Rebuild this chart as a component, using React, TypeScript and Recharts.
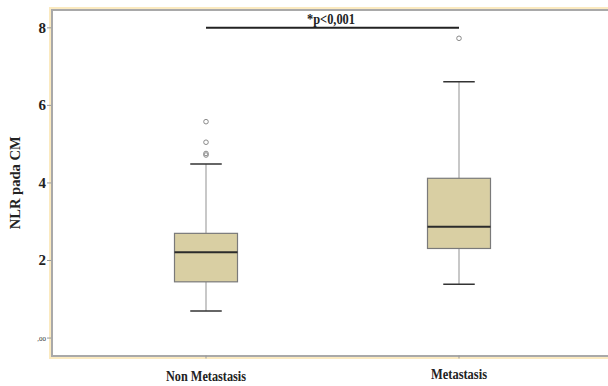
import React from 'react'
import { ComposedChart, Bar, Scatter, XAxis, YAxis, ReferenceLine } from 'recharts'

const categories = ['Non Metastasis', 'Metastasis']
const whiskerLow = [0.7, 1.39]
const quartile1 = [1.45, 2.31]
const medians = [2.21, 2.87]
const quartile3 = [2.7, 4.12]
const whiskerHigh = [4.49, 6.61]
const outliersNonMetastasis = [5.58, 5.05, 4.76, 4.72]
const outliersMetastasis = [7.73]
const yTicks = [0, 2, 4, 6, 8]
const yLabel = 'NLR pada CM'
const pValueText = '*p<0,001'
const pValueLevel = 8

const outlierSets = [outliersNonMetastasis, outliersMetastasis]

const rows = categories.map((name, i) => ({
  name,
  low: whiskerLow[i],
  q1: quartile1[i],
  med: medians[i],
  q3: quartile3[i],
  high: whiskerHigh[i],
  o0: outlierSets[i][0] ?? null,
  o1: outlierSets[i][1] ?? null,
  o2: outlierSets[i][2] ?? null,
  o3: outlierSets[i][3] ?? null,
}))

const serif = '"Liberation Serif", "Times New Roman", serif'
const boxFill = '#d9cfa3'

function BoxShape(props: any) {
  const { x, y, width, height, payload } = props
  if (payload == null || x == null) return <g />
  const top = Math.min(y, y + height)
  const bottom = Math.max(y, y + height)
  const px = (v: number) => bottom - ((v - payload.low) / (payload.high - payload.low)) * (bottom - top)
  const cx = x + width / 2
  const cap = width / 4
  return (
    <g>
      <line x1={cx} x2={cx} y1={px(payload.high)} y2={px(payload.q3)} stroke="#a3a3a3" strokeWidth={1.2} />
      <line x1={cx} x2={cx} y1={px(payload.q1)} y2={px(payload.low)} stroke="#a3a3a3" strokeWidth={1.2} />
      <line x1={cx - cap} x2={cx + cap} y1={px(payload.high)} y2={px(payload.high)} stroke="#333" strokeWidth={1.5} />
      <line x1={cx - cap} x2={cx + cap} y1={px(payload.low)} y2={px(payload.low)} stroke="#333" strokeWidth={1.5} />
      <rect
        x={x}
        y={px(payload.q3)}
        width={width}
        height={px(payload.q1) - px(payload.q3)}
        fill={boxFill}
        stroke="#7a7a7a"
        strokeWidth={1.2}
      />
      <line x1={x} x2={x + width} y1={px(payload.med)} y2={px(payload.med)} stroke="#2b2b2b" strokeWidth={2} />
    </g>
  )
}

function OutlierDot(props: any) {
  const { cx, cy } = props
  if (cx == null || cy == null || Number.isNaN(cy)) return <g />
  return <circle cx={cx} cy={cy} r={2.3} fill="none" stroke="#8a8a8a" strokeWidth={1} />
}

function YTick(props: any) {
  const { x, y, payload } = props
  if (payload.value === 0) {
    return (
      <text x={x} y={y + 2.5} textAnchor="end" fontFamily={serif} fontSize={7} fill="#333">
        ,00
      </text>
    )
  }
  return (
    <text x={x} y={y + 5} textAnchor="end" fontFamily={serif} fontSize={15} fontWeight="bold" fill="#222">
      {payload.value}
    </text>
  )
}

function XTick(props: any) {
  const { x, y, payload, index } = props
  const widths = [80, 56]
  return (
    <text
      x={x}
      y={y + (index === 0 ? 20.5 : 18.5)}
      textAnchor="middle"
      fontFamily={serif}
      fontSize={14}
      fontWeight="bold"
      fill="#222"
      textLength={widths[index]}
      lengthAdjust="spacingAndGlyphs"
    >
      {payload.value}
    </text>
  )
}

export default function App() {
  return (
    <div style={{ position: 'absolute', left: 0, top: 0, width: 608, height: 386, background: '#fff', overflow: 'hidden' }}>
      <div
        style={{
          position: 'absolute',
          left: 49,
          top: 7,
          width: 600,
          height: 352,
          boxSizing: 'border-box',
          borderTop: '2px solid #fbeac0',
          borderLeft: '2px solid #fbeac0',
          borderBottom: '2px solid #fbeac0',
        }}
      >
        <div
          style={{
            width: '100%',
            height: '100%',
            boxSizing: 'border-box',
            borderTop: '2px solid #a9a9a9',
            borderLeft: '2px solid #a9a9a9',
            borderBottom: '2px solid #a9a9a9',
          }}
        />
      </div>
      <div style={{ position: 'absolute', left: 0, top: 0 }}>
        <ComposedChart width={608} height={386} data={rows} margin={{ top: 10, right: 0, bottom: 0, left: 0 }}>
          <XAxis
            dataKey="name"
            type="category"
            height={30.5}
            padding={{ left: 28.5, right: 22.5 }}
            axisLine={false}
            tickLine={{ stroke: '#999' }}
            tickSize={3}
            tickMargin={2}
            tick={<XTick />}
            interval={0}
          />
          <YAxis
            type="number"
            domain={[-0.45, 8.46]}
            ticks={yTicks}
            width={51}
            axisLine={false}
            tickLine={{ stroke: '#999' }}
            tickSize={4}
            tickMargin={1}
            tick={<YTick />}
            allowDataOverflow
            label={{
              content: (p: any) => {
                const vb = p.viewBox
                const cy = vb.y + vb.height / 2
                return (
                  <text
                    x={15}
                    y={cy}
                    transform={`rotate(-90, 15, ${cy})`}
                    textAnchor="middle"
                    dominantBaseline="central"
                    fontFamily={serif}
                    fontSize={15}
                    fontWeight="bold"
                    fill="#222"
                    textLength={93}
                    lengthAdjust="spacingAndGlyphs"
                  >
                    {yLabel}
                  </text>
                )
              },
            }}
          />
          <Bar
            dataKey={(d: any) => [d.low, d.high]}
            barSize={63}
            shape={<BoxShape />}
            isAnimationActive={false}
          />
          {['o0', 'o1', 'o2', 'o3'].map((k) => (
            <Scatter key={k} dataKey={k} shape={<OutlierDot />} isAnimationActive={false} />
          ))}
          <ReferenceLine
            segment={[
              { x: categories[0], y: pValueLevel },
              { x: categories[1], y: pValueLevel },
            ]}
            stroke="#222"
            strokeWidth={2}
            label={{
              content: (p: any) => {
                const vb = p.viewBox
                const cx = vb.x + vb.width / 2 - 1.5
                return (
                  <text
                    x={cx}
                    y={vb.y - 3.5}
                    textAnchor="middle"
                    fontFamily={serif}
                    fontSize={14}
                    fontWeight="bold"
                    fill="#222"
                    textLength={48}
                    lengthAdjust="spacingAndGlyphs"
                  >
                    {pValueText}
                  </text>
                )
              },
            }}
          />
        </ComposedChart>
      </div>
    </div>
  )
}
